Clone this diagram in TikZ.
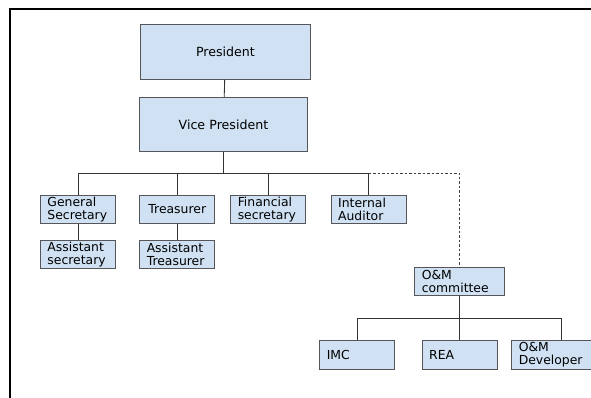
\documentclass[tikz,border=0pt]{standalone}
\usepackage{fontspec}
\setmainfont{DejaVu Sans}
\usepackage{xcolor}
\usepackage{tikz}
\usetikzlibrary{positioning}

\definecolor{boxblue}{RGB}{207,225,242}
\definecolor{boxline}{RGB}{85,85,90}

\begin{document}
\begin{tikzpicture}[
        x=1pt, y=-1pt,
        box/.style={rectangle, draw=boxline, fill=boxblue, line width=0.9pt, anchor=north west, inner xsep=7pt, inner ysep=0pt, font={\fontsize{12.4}{13}\selectfont}},
        bigbox/.style={box, align=center, font={\fontsize{12.6}{15}\selectfont}},
        smallbox/.style={box, align=left, text width=61pt, minimum height=28pt},
        link/.style={draw=black!80, line width=0.85pt},
        dotlink/.style={draw=black!75, line width=0.85pt, dash pattern=on 2.5pt off 2pt}
    ]
    \clip (0,0) rectangle (591,398);
    \useasboundingbox (0,0) rectangle (591,398);

    % Frame
    \draw[line width=2pt] (9.5,420) -- (9.5,9.5) -- (620,9.5);

    % Top
    \node[bigbox, text width=156pt, minimum height=55pt] (pres) at (140,24) {President};
    \node[bigbox, text width=154.6pt, minimum height=54.3pt] (vp) at (138.7,97) {Vice President};

    % Officers
    \node[smallbox] (gs) at (40,195) {General\\Secretary};
    \node[smallbox, align=center] (tr) at (139.3,195) {Treasurer};
    \node[smallbox] (fs) at (230.3,195) {Financial\\secretary};
    \node[smallbox] (ia) at (330.7,195) {Internal\\Auditor};
    \node[smallbox] (as) at (40,240) {Assistant\\secretary};
    \node[smallbox] (at) at (139.3,240) {Assistant\\Treasurer};

    % O&M
    \node[smallbox, text width=75.4pt, minimum height=27.7pt] (om) at (414.3,267.3) {O\&M\\committee};
    \node[smallbox, minimum height=28.4pt] (imc) at (319.3,340.3) {IMC};
    \node[smallbox, minimum height=28.4pt] (rea) at (421.7,340.3) {REA};
    \node[smallbox, text width=85.4pt, minimum height=28.4pt] (dev) at (511.3,340.3) {O\&M\\Developer};

    \coordinate (bar) at (224,173);
    \coordinate (subbar) at (459,318);

    % Connections
    \draw[link] (pres) -- (vp);
    \draw[link] (vp.south) -- (vp.south |- bar);
    \draw[link] (gs.north) |- (bar);
    \draw[link] (tr.north) |- (bar);
    \draw[link] (fs.north) |- (bar);
    \draw[link] (ia.north) |- (bar);
    \draw[link] (gs) -- (as);
    \draw[link] (tr) -- (at);
    \draw[dotlink] (ia.north |- bar) -| (om.north);

    \draw[link] (om.south) -- (om.south |- subbar);
    \draw[link] (imc.north) |- (subbar);
    \draw[link] (rea.north) |- (subbar);
    \draw[link] (dev.north) |- (subbar);

\end{tikzpicture}
\end{document}
